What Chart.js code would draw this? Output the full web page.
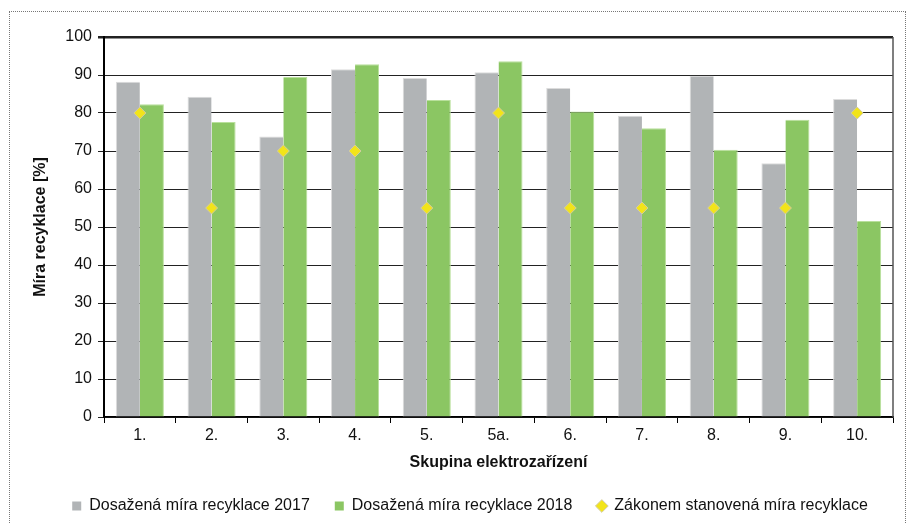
<!DOCTYPE html>
<html>
<head>
<meta charset="utf-8">
<script src="https://cdn.jsdelivr.net/npm/chart.js@4.4.0/dist/chart.umd.min.js"></script>
<style>
  html, body { margin: 0; padding: 0; background: #fff; }
  #wrap { position: relative; width: 906px; height: 523px; }
  #frame { position: absolute; left: 9px; top: 11px; width: 895px; height: 530px; border: 1px dotted #777; pointer-events: none; }
</style>
</head>
<body>
<div id="wrap">
  <canvas id="chart" width="906" height="523"></canvas>
  <div id="frame"></div>
</div>
<script>
var categories = ['1.', '2.', '3.', '4.', '5.', '5a.', '6.', '7.', '8.', '9.', '10.'];
var rate2017 = [88.2, 84.3, 73.8, 91.5, 89.2, 90.7, 86.6, 79.3, 89.8, 66.8, 83.7];
var rate2018 = [82.3, 77.6, 89.5, 92.8, 83.4, 93.6, 80.4, 76.0, 70.3, 78.2, 51.6];
var legalRate = [80, 55, 70, 70, 55, 80, 55, 55, 55, 55, 80];
var yTicks = [0, 10, 20, 30, 40, 50, 60, 70, 80, 90, 100];

// right edge of the plot frame
var frameBorder = {
    id: 'frameBorder',
    afterDraw: function(chart) {
        var a = chart.chartArea;
        var c = chart.ctx;
        c.save();
        c.strokeStyle = '#555';
        c.lineWidth = 1.5;
        c.beginPath();
        c.moveTo(a.right, a.top);
        c.lineTo(a.right, a.bottom);
        c.stroke();
        c.restore();
    }
};

// keep the legend box short so that wide item spacing does not squeeze the plot,
// and nudge it a little to the right like the original
var legendHeight = {
    id: 'legendHeight',
    afterInit: function(chart) {
        var lg = chart.legend;
        if (!lg) return;
        var fit = lg.fit;
        lg.fit = function() {
            fit.call(this);
            this.height = 51;
        };
    },
    afterLayout: function(chart) {
        var lg = chart.legend;
        if (!lg) return;
        lg.left += 8;
        lg.right += 8;
        lg.top += 1;
        lg.bottom += 1;
    }
};

var ctx = document.getElementById('chart').getContext('2d');
new Chart(ctx, {
    type: 'bar',
    data: {
        labels: categories,
        datasets: [{
            label: 'Dosažená míra recyklace 2017',
            data: rate2017,
            backgroundColor: '#b1b4b6',
            borderColor: '#dcdcdc',
            borderWidth: {top: 1, left: 1, right: 0, bottom: 0},
            categoryPercentage: 0.67,
            barPercentage: 1,
            order: 2
        }, {
            label: 'Dosažená míra recyklace 2018',
            data: rate2018,
            backgroundColor: '#8bc663',
            borderColor: '#b9e09c',
            borderWidth: {top: 1, left: 0, right: 1, bottom: 0},
            categoryPercentage: 0.67,
            barPercentage: 1,
            order: 2
        }, {
            type: 'line',
            label: 'Zákonem stanovená míra recyklace',
            data: legalRate,
            showLine: false,
            pointStyle: 'rectRot',
            pointRadius: 6,
            pointHoverRadius: 6,
            pointBackgroundColor: '#f2e41a',
            pointBorderColor: '#d2cca0',
            pointBorderWidth: 1,
            backgroundColor: '#f2e41a',
            borderColor: '#d2cca0',
            order: 1
        }]
    },
    options: {
        responsive: false,
        animation: false,
        events: [],
        layout: { padding: { left: 31, right: 13, top: 37, bottom: 0 } },
        scales: {
            x: {
                offset: true,
                grid: { offset: true, drawOnChartArea: false, drawTicks: true, tickLength: 6, color: '#000' },
                border: { color: '#000', width: 1.5 },
                ticks: { color: '#111', font: { family: 'Liberation Sans', size: 16 }, padding: 3 },
                title: { display: true, text: 'Skupina elektrozařízení', color: '#111',
                         font: { family: 'Liberation Sans', size: 16, weight: 'bold' }, padding: { top: 0, bottom: 0 } },
                afterFit: function(s) { s.height = 55; }
            },
            y: {
                min: 0,
                max: 100,
                afterBuildTicks: function(s) { s.ticks = yTicks.map(function(v) { return {value: v}; }); },
                grid: {
                    color: '#222',
                    lineWidth: function(c) { return c.tick && c.tick.value === 100 ? 2.5 : 1; },
                    drawTicks: true,
                    tickLength: 6
                },
                border: { color: '#000', width: 2 },
                ticks: { color: '#111', font: { family: 'Liberation Sans', size: 16 }, padding: 6 },
                title: { display: true, text: 'Míra recyklace [%]', color: '#111',
                         font: { family: 'Liberation Sans', size: 16, weight: 'bold' }, padding: { top: 0, bottom: 0 } },
                afterFit: function(s) { s.width = 73; }
            }
        },
        plugins: {
            tooltip: { enabled: false },
            legend: {
                position: 'bottom',
                labels: {
                    color: '#111',
                    font: { family: 'Liberation Sans', size: 16 },
                    boxWidth: 9,
                    boxHeight: 9,
                    padding: 25,
                    usePointStyle: true,
                    generateLabels: function(chart) {
                        return chart.data.datasets.map(function(ds, i) {
                            var isLine = ds.type === 'line';
                            return {
                                text: ds.label,
                                fillStyle: isLine ? '#f2e41a' : ds.backgroundColor,
                                strokeStyle: isLine ? '#d2cca0' : ds.backgroundColor,
                                lineWidth: isLine ? 1 : 0,
                                pointStyle: isLine ? 'rectRot' : 'rect',
                                fontColor: '#111',
                                datasetIndex: i
                            };
                        });
                    }
                }
            }
        }
    },
    plugins: [frameBorder, legendHeight]
});
</script>
</body>
</html>
